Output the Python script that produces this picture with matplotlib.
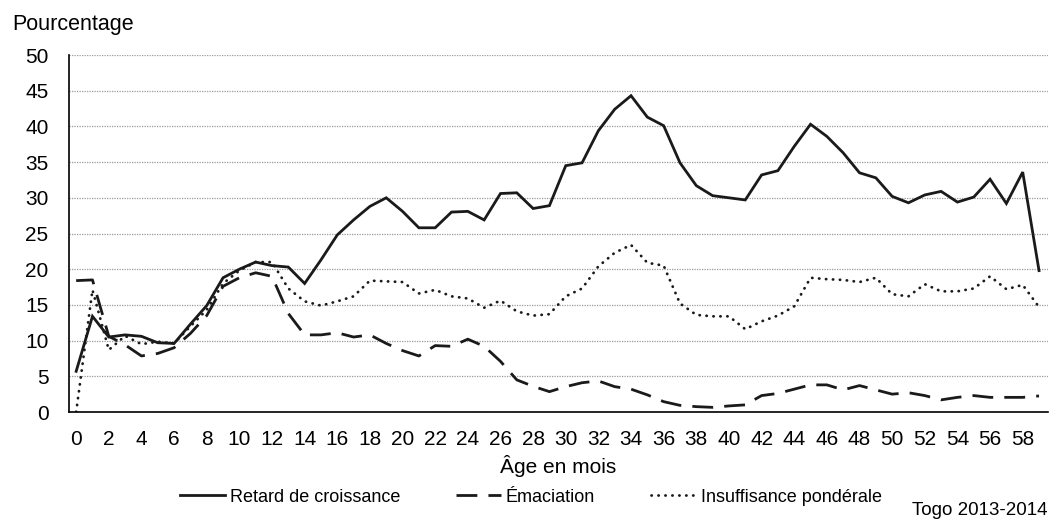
import matplotlib
matplotlib.use("Agg")
import matplotlib.pyplot as plt
import numpy as np

plt.rcParams['font.family'] = ['Liberation Sans', 'DejaVu Sans']

months = list(range(60))

retard = [5.7, 13.4, 10.5, 10.8, 10.6, 9.7, 9.6, 12.3, 14.9, 18.8,
          20.0, 21.0, 20.5, 20.3, 18.0, 21.3, 24.8, 26.9, 28.8, 30.0,
          28.1, 25.8, 25.8, 28.0, 28.1, 26.9, 30.6, 30.7, 28.5, 28.9,
          34.5, 34.9, 39.4, 42.4, 44.3, 41.3, 40.1, 34.9, 31.7, 30.3,
          30.0, 29.7, 33.2, 33.8, 37.2, 40.3, 38.6, 36.3, 33.5, 32.8,
          30.2, 29.3, 30.4, 30.9, 29.4, 30.1, 32.6, 29.2, 33.6, 19.8]

emaciation = [18.4, 18.5, 10.6, 9.4, 7.85, 8.2, 9.0, 11.0, 13.5, 17.6,
              18.8, 19.5, 19.0, 13.8, 10.8, 10.8, 11.1, 10.5, 10.8, 9.6,
              8.6, 7.85, 9.3, 9.2, 10.2, 9.2, 7.1, 4.5, 3.6, 2.85,
              3.55, 4.1, 4.35, 3.55, 3.2, 2.4, 1.45, 0.93, 0.75, 0.65,
              0.85, 1.0, 2.3, 2.6, 3.2, 3.8, 3.8, 3.1, 3.7, 3.1,
              2.5, 2.7, 2.3, 1.7, 2.05, 2.3, 2.05, 2.05, 2.05, 2.25]

insuffisance = [0.0, 17.1, 8.7, 10.65, 9.5, 9.85, 9.6, 12.0, 14.3, 18.0,
                19.8, 21.0, 21.0, 17.3, 15.5, 14.9, 15.5, 16.2, 18.4, 18.3,
                18.2, 16.6, 17.1, 16.2, 15.9, 14.6, 15.6, 14.1, 13.5, 13.7,
                16.2, 17.3, 20.4, 22.3, 23.4, 20.9, 20.5, 15.2, 13.6, 13.4,
                13.4, 11.6, 12.7, 13.5, 14.8, 18.8, 18.6, 18.5, 18.2, 18.8,
                16.5, 16.2, 17.9, 16.9, 16.9, 17.3, 19.0, 17.2, 17.8, 14.7]

series_labels = ['Retard de croissance', 'Émaciation', 'Insuffisance pondérale']
y_ticks = list(range(0, 51, 5))
x_ticks = list(range(0, 59, 2))

W, H = 1052, 526
fig = plt.figure(figsize=(W / 100, H / 100), dpi=100)
ax = fig.add_axes([69.3 / W, 1 - 412 / H, (1048 - 69.3) / W, (412 - 55) / H])

col = '#1a1a1a'
l1, = ax.plot(months, retard, color=col, lw=2.0, solid_joinstyle='miter')
l2, = ax.plot(months, emaciation, color=col, lw=2.0, linestyle=(0, (7.5, 4)))
l3, = ax.plot(months, insuffisance, color=col, lw=2.0, linestyle=(0, (0.1, 2.4)),
              dash_capstyle='round')

ax.set_xlim(-0.42, 59.55)
ax.set_ylim(0, 50)
ax.set_yticks(y_ticks)
ax.set_xticks(x_ticks)
ax.set_xticklabels([str(v) for v in x_ticks])
ax.tick_params(axis='both', length=0, labelsize=15, colors='black')
ax.tick_params(axis='y', pad=15)
ax.tick_params(axis='x', pad=13)

ax.yaxis.grid(True, color='#9a9a9a', linestyle=(0, (1, 1)), lw=0.9)
ax.set_axisbelow(True)
for s in ['top', 'right']:
    ax.spines[s].set_visible(False)
for s in ['left', 'bottom']:
    ax.spines[s].set_color('black')
    ax.spines[s].set_linewidth(1.2)

fig.text(12 / W, 1 - 30 / H, 'Pourcentage', fontsize=15.5, ha='left', va='baseline')
fig.text(558 / W, 1 - 473 / H, 'Âge en mois', fontsize=15, ha='center', va='baseline')
fig.text(1048 / W, 1 - 515 / H, 'Togo 2013-2014', fontsize=13.5, ha='right', va='baseline')

leg = fig.legend([l1, l2, l3], series_labels, loc='center',
                 bbox_to_anchor=(531 / W, 1 - 497 / H), ncol=3, frameon=False,
                 fontsize=13, handlelength=2.5, handletextpad=0.25,
                 columnspacing=3.1, borderpad=0, borderaxespad=0)

fig.savefig('out.png', dpi=100)
